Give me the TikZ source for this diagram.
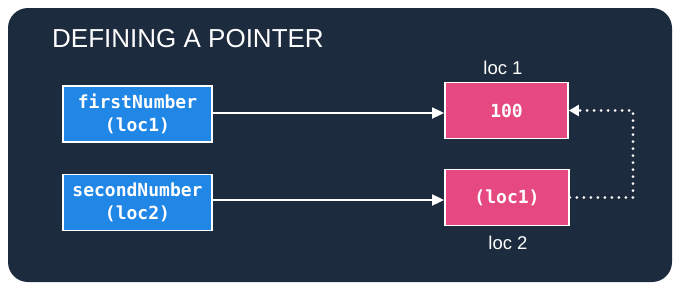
\documentclass[tikz,border=0pt]{standalone}
\usepackage{fontspec}
\setmainfont{Liberation Sans}
\newfontfamily\codefont{DejaVu Sans Mono}
\usetikzlibrary{arrows.meta}
\definecolor{bgnavy}{HTML}{1C2B3D}
\definecolor{varblue}{HTML}{2187E6}
\definecolor{mempink}{HTML}{E6497F}
\tikzset{
  varbox/.style={draw=white, line width=1.8pt, fill=varblue, text=white, align=center,
    font=\codefont\bfseries\fontsize{18}{23}\selectfont, minimum width=149pt, minimum height=56pt, inner sep=0pt},
  membox/.style={draw=white, line width=1.8pt, fill=mempink, text=white,
    font=\codefont\bfseries\fontsize{18}{23}\selectfont, minimum width=123pt, minimum height=56pt, inner sep=0pt},
  loclabel/.style={text=white, font=\fontsize{18.5}{20}\selectfont, inner sep=0pt},
  link/.style={draw=white, line width=1.8pt, -{Triangle[length=12pt,width=11pt]}},
  dotlink/.style={draw=white, line width=3pt, line cap=round, dash pattern=on 0pt off 7pt,
    -{Triangle[length=10pt,width=11pt,line cap=butt]}}
}
\begin{document}
\begin{tikzpicture}[x=1pt,y=-1pt]
\useasboundingbox (0,0) rectangle (680,290);
\fill[white] (0,0) rectangle (680,290);
\fill[bgnavy, rounded corners=20pt] (8,8) rectangle (672,282);
\node[anchor=base west, text=white, font=\fontsize{26}{28}\selectfont, inner sep=0pt] (title) at (52,47) {DEFINING A POINTER};
\node[varbox] (fn) at (137.5,114) {firstNumber\\(loc1)};
\node[varbox] (sn) at (137.5,202.5) {secondNumber\\(loc2)};
\node[membox] (l1) at (506.5,110.5) {100};
\node[membox, minimum width=124pt] (l2) at (507,197.5) {(loc1)};
\node[loclabel] (lab1) at (503,68) {loc 1};
\node[loclabel] (lab2) at (508,243) {loc 2};
\draw[link] (fn.east |- 0,113) -- (l1.west |- 0,113);
\draw[link] (sn.east |- 0,200) -- (l2.west |- 0,200);
\coordinate (turn) at (633,197.5);
\draw[dotlink] (l2.east) -- (turn) |- (l1.east);
\end{tikzpicture}
\end{document}
